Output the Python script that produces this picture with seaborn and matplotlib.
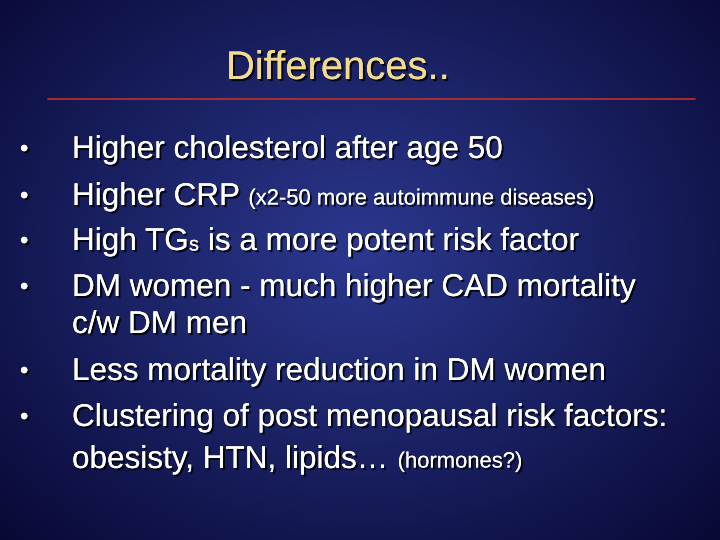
import numpy as np
import seaborn as sns
import matplotlib.pyplot as plt
import matplotlib.patheffects as pe

sns.set_style("white")
plt.rcParams['font.family'] = ['Liberation Sans', 'DejaVu Sans']

# Slide text
title = "Differences.."
bullet_rows = [150, 197, 242, 288, 372, 418]
BIG, SMALL, SUB = 31.5, 22, 20
# each line: y pixel, list of (text, font size px, y shift px)
lines = [
    (150, [("Higher cholesterol after age 50", BIG, 0)]),
    (197, [("Higher CRP ", BIG, 0), ("(x2-50 more autoimmune diseases)", SMALL, 2)]),
    (242, [("High TG", BIG, 0), ("s", SUB, 3), (" is a more potent risk factor", BIG, 0)]),
    (288, [("DM women - much higher CAD mortality", BIG, 0)]),
    (325, [("c/w DM men", BIG, 0)]),
    (372, [("Less mortality reduction in DM women", BIG, 0)]),
    (418, [("Clustering of post menopausal risk factors:", BIG, 0)]),
    (460, [("obesisty, HTN, lipids\u2026 ", BIG, 0), ("(hormones?)", SMALL, 2)]),
]

W, H = 720, 540
fig = plt.figure(figsize=(7.2, 5.4), dpi=100)
ax = fig.add_axes([0, 0, 1, 1])
ax.set_xlim(0, W)
ax.set_ylim(H, 0)
ax.axis('off')

# radial gradient background
yy, xx = np.mgrid[0:H, 0:W]
r = np.sqrt(((xx - 360) / 520) ** 2 + ((yy - 250) / 420) ** 2)
r = np.clip(r, 0, 1)
c0 = np.array([0.17, 0.22, 0.56])
c1 = np.array([0.03, 0.03, 0.20])
img = c0[None, None, :] * (1 - r[..., None]) + c1[None, None, :] * r[..., None]
ax.imshow(img, extent=[0, W, H, 0], zorder=0)

shadow = [pe.withSimplePatchShadow(offset=(1.5, -1.5), shadow_rgbFace='black', alpha=0.8), pe.Normal()]
px = 72 / 100  # px -> pt

ax.text(338, 68, title, color='#f2dc8c', fontsize=40 * px, ha='center', va='center',
        path_effects=shadow)
ax.plot([48, 695], [99, 99], color='#c0302a', lw=1.2)

for y in bullet_rows:
    ax.text(20, y, "\u2022", color='white', fontsize=24 * px, va='center', path_effects=shadow)

renderer = fig.canvas.get_renderer()
for y, parts in lines:
    x = 72
    for txt, s, dy in parts:
        t = ax.text(x, y + dy, txt, color='white', fontsize=s * px, va='center', path_effects=shadow)
        bb = t.get_window_extent(renderer=renderer)
        x += bb.width

fig.savefig('out.png', dpi=100)
